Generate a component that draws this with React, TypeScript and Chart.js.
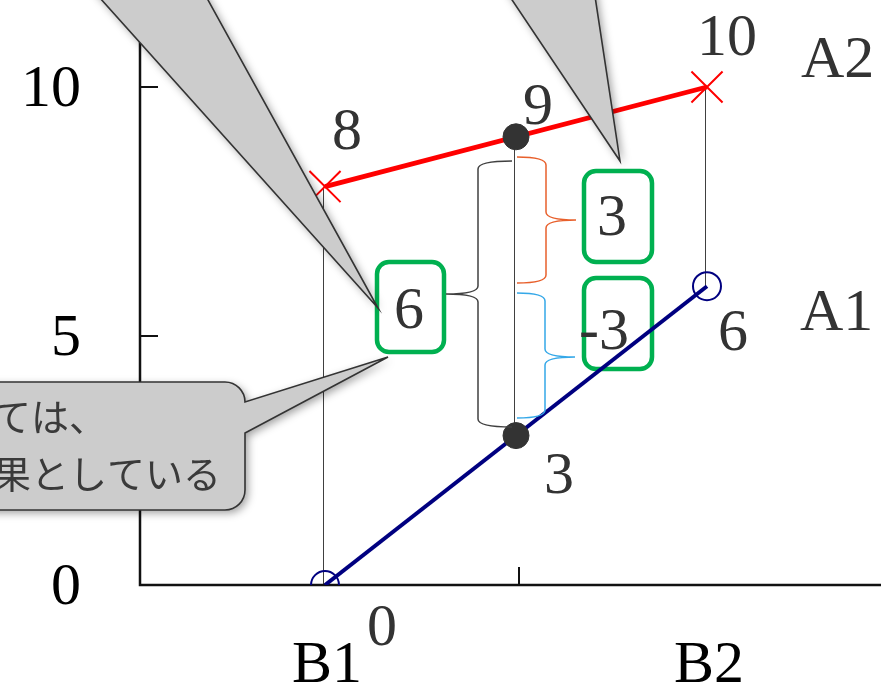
import React, { useEffect, useRef } from "react";
import { Chart, registerables } from "chart.js";
Chart.register(...registerables);

// ---- data ----
const categories = ["B1", "B2"];
const categoryX = [0, 1];
const seriesNames = ["A2", "A1"];
const seriesA2 = [8, 10];
const seriesA1 = [0, 6];
const midX = 0.5;
const midValues = [9, 3];
const yTicks = [0, 5, 10];
const xTickMarks = [0.5];
const diffLabels = ["6", "3", "-3"];
const calloutLines = ["ては、", "果としている"];

const SERIF = '"Liberation Serif", "Times New Roman", serif';
const CJK = '"Noto Sans CJK JP", "Noto Sans", sans-serif';

// label offsets (style): [dx, dy baseline]
const offA2 = [[22, -38], [20, -32]];
const offA1 = [[57, 60], [26, 64]];
const offMid = [[22, -13], [43, 57]];

function roundRect(ctx: CanvasRenderingContext2D, x: number, y: number, w: number, h: number, r: number) {
  ctx.beginPath();
  ctx.moveTo(x + r, y);
  ctx.lineTo(x + w - r, y);
  ctx.arcTo(x + w, y, x + w, y + r, r);
  ctx.lineTo(x + w, y + h - r);
  ctx.arcTo(x + w, y + h, x + w - r, y + h, r);
  ctx.lineTo(x + r, y + h);
  ctx.arcTo(x, y + h, x, y + h - r, r);
  ctx.lineTo(x, y + r);
  ctx.arcTo(x, y, x + r, y, r);
  ctx.closePath();
}

function brace(ctx: CanvasRenderingContext2D, xTip: number, xSpine: number, xPoint: number, yTop: number, yMid: number, yBot: number, color: string, lw: number) {
  const r = 8;
  ctx.save();
  ctx.strokeStyle = color;
  ctx.lineWidth = lw;
  ctx.beginPath();
  ctx.moveTo(xTip, yTop);
  ctx.quadraticCurveTo(xSpine, yTop, xSpine, yTop + r);
  ctx.lineTo(xSpine, yMid - r);
  ctx.quadraticCurveTo(xSpine, yMid, xPoint, yMid);
  ctx.quadraticCurveTo(xSpine, yMid, xSpine, yMid + r);
  ctx.lineTo(xSpine, yBot - r);
  ctx.quadraticCurveTo(xSpine, yBot, xTip, yBot);
  ctx.stroke();
  ctx.restore();
}

function callout(ctx: CanvasRenderingContext2D, build: () => void) {
  ctx.save();
  build();
  ctx.shadowColor = "rgba(0,0,0,0.38)";
  ctx.shadowBlur = 8;
  ctx.shadowOffsetX = 3;
  ctx.shadowOffsetY = 3;
  ctx.fillStyle = "#CCCCCC";
  ctx.fill();
  ctx.shadowColor = "rgba(0,0,0,0)";
  ctx.strokeStyle = "#333333";
  ctx.lineWidth = 1.6;
  ctx.lineJoin = "miter";
  ctx.stroke();
  ctx.restore();
}

const overlay = {
  id: "overlay",
  beforeDatasetsDraw(chart: any) {
    const ctx: CanvasRenderingContext2D = chart.ctx;
    const xs = chart.scales.x;
    const ys = chart.scales.y;
    const a = chart.chartArea;
    ctx.save();
    // high-low lines
    ctx.strokeStyle = "#404040";
    ctx.lineWidth = 1;
    const groups: number[][] = [
      [categoryX[0], seriesA2[0], seriesA1[0]],
      [categoryX[1], seriesA2[1], seriesA1[1]],
      [midX, midValues[0], midValues[1]],
    ];
    groups.forEach((g) => {
      const x = Math.round(xs.getPixelForValue(g[0])) - 1.5;
      ctx.beginPath();
      ctx.moveTo(x, ys.getPixelForValue(Math.max(g[1], g[2])));
      ctx.lineTo(x, ys.getPixelForValue(Math.min(g[1], g[2])));
      ctx.stroke();
    });
    // axes
    ctx.strokeStyle = "#111111";
    ctx.lineWidth = 2.5;
    ctx.beginPath();
    ctx.moveTo(a.left, a.top);
    ctx.lineTo(a.left, a.bottom);
    ctx.lineTo(a.right, a.bottom);
    ctx.stroke();
    ctx.lineWidth = 2;
    yTicks.forEach((t) => {
      if (t === 0) return;
      const y = ys.getPixelForValue(t);
      ctx.beginPath();
      ctx.moveTo(a.left, y);
      ctx.lineTo(a.left + 18, y);
      ctx.stroke();
    });
    xTickMarks.forEach((t) => {
      const x = xs.getPixelForValue(t) + 3;
      ctx.beginPath();
      ctx.moveTo(x, a.bottom);
      ctx.lineTo(x, a.bottom - 18);
      ctx.stroke();
    });
    // green boxes
    ctx.strokeStyle = "#00B050";
    ctx.lineWidth = 4.5;
    roundRect(ctx, 377, 262, 67, 90, 12);
    ctx.stroke();
    roundRect(ctx, 584, 171, 68, 91, 12);
    ctx.stroke();
    roundRect(ctx, 584, 278, 68, 91, 12);
    ctx.stroke();
    ctx.restore();
  },
  afterDatasetsDraw(chart: any) {
    const ctx: CanvasRenderingContext2D = chart.ctx;
    const xs = chart.scales.x;
    const ys = chart.scales.y;
    const a = chart.chartArea;
    ctx.save();
    ctx.font = `60px ${SERIF}`;
    ctx.textBaseline = "alphabetic";
    // y tick labels
    ctx.fillStyle = "#000000";
    ctx.textAlign = "right";
    yTicks.forEach((t) => {
      ctx.fillText(String(t), a.left - 59, ys.getPixelForValue(t) + 19);
    });
    // x category labels
    ctx.textAlign = "center";
    categories.forEach((c, i) => {
      ctx.fillText(c, xs.getPixelForValue(categoryX[i]) + 2, 682);
    });
    // data labels
    ctx.fillStyle = "#333333";
    const lab = (x: number, y: number, v: number, off: number[]) => {
      ctx.fillText(String(v), xs.getPixelForValue(x) + off[0], ys.getPixelForValue(y) + off[1]);
    };
    categoryX.forEach((x, i) => {
      lab(x, seriesA2[i], seriesA2[i], offA2[i]);
      lab(x, seriesA1[i], seriesA1[i], offA1[i]);
    });
    midValues.forEach((v, i) => lab(midX, v, v, offMid[i]));
    // series names at right
    ctx.textAlign = "left";
    const lastIdx = categoryX.length - 1;
    ctx.fillText(seriesNames[0], 801, ys.getPixelForValue(seriesA2[lastIdx]) - 10);
    ctx.fillText(seriesNames[1], 800, ys.getPixelForValue(seriesA1[lastIdx]) + 44);
    // box labels
    ctx.textAlign = "center";
    ctx.fillText(diffLabels[0], 409, 328);
    ctx.fillText(diffLabels[1], 612, 235);
    ctx.textAlign = "right";
    ctx.fillText(diffLabels[2], 629, 349);

    // braces
    brace(ctx, 512, 478, 446, 161, 294, 427, "#404040", 1.5);
    brace(ctx, 517, 546, 576, 157, 220, 283, "#E8602C", 1.5);
    brace(ctx, 517, 545, 575, 293, 357, 418, "#35A8E8", 1.5);

    // callouts
    callout(ctx, () => {
      ctx.beginPath();
      ctx.moveTo(102 - 0.905 * 30, -30);
      ctx.lineTo(378, 308);
      ctx.lineTo(208 - 0.552 * 30, -30);
      ctx.closePath();
    });
    callout(ctx, () => {
      ctx.beginPath();
      ctx.moveTo(513 - 0.7 * 30, -30);
      ctx.lineTo(620, 161);
      ctx.lineTo(595 - 0.133 * 30, -30);
      ctx.closePath();
    });
    callout(ctx, () => {
      ctx.beginPath();
      ctx.moveTo(-40, 382);
      ctx.lineTo(225, 382);
      ctx.arcTo(245, 382, 245, 402, 20);
      ctx.lineTo(388, 357);
      ctx.lineTo(245, 433);
      ctx.lineTo(245, 490);
      ctx.arcTo(245, 510, 225, 510, 20);
      ctx.lineTo(-40, 510);
      ctx.closePath();
    });
    ctx.fillStyle = "#3A3A3A";
    ctx.font = `38px ${CJK}`;
    ctx.textAlign = "left";
    ctx.textBaseline = "middle";
    ctx.fillText(calloutLines[0], -7, 417);
    ctx.fillText(calloutLines[1], -7, 474);
    ctx.restore();
  },
};

export default function App() {
  const ref = useRef<HTMLCanvasElement | null>(null);
  useEffect(() => {
    if (!ref.current) return;
    const chart = new Chart(ref.current, {
      type: "scatter",
      data: {
        datasets: [
          {
            label: "mid",
            data: midValues.map((v) => ({ x: midX, y: v })),
            showLine: false,
            pointRadius: 13,
            pointHoverRadius: 13,
            pointBackgroundColor: "#333333",
            pointBorderColor: "#333333",
            pointBorderWidth: 1,
          },
          {
            label: seriesNames[0],
            data: categoryX.map((x, i) => ({ x, y: seriesA2[i] })),
            showLine: true,
            borderColor: "#FF0000",
            borderWidth: 4.8,
            pointStyle: "crossRot",
            pointRadius: 22,
            pointHoverRadius: 22,
            pointBorderColor: "#FF0000",
            pointBackgroundColor: "#FF0000",
            pointBorderWidth: 2,
          },
          {
            label: seriesNames[1],
            data: categoryX.map((x, i) => ({ x, y: seriesA1[i] })),
            showLine: true,
            borderColor: "#000080",
            borderWidth: 4,
            pointStyle: "circle",
            pointRadius: 14,
            pointHoverRadius: 14,
            pointBorderColor: "#000080",
            pointBackgroundColor: "rgba(0,0,0,0)",
            pointBorderWidth: 2,
          },
        ],
      },
      options: {
        responsive: false,
        animation: false,
        devicePixelRatio: 1,
        layout: { autoPadding: false, padding: { left: 140, right: 0, top: 0, bottom: 99 } },
        scales: {
          x: { type: "linear", display: false, min: -0.4843, max: 1.4555 },
          y: { type: "linear", display: false, min: 0, max: 11.747 },
        },
        plugins: { legend: { display: false }, tooltip: { enabled: false } },
        elements: { line: { tension: 0 } },
        events: [],
      },
      plugins: [overlay],
    } as any);
    return () => chart.destroy();
  }, []);
  return (
    <div style={{ position: "fixed", left: 0, top: 0, width: 881, height: 684, overflow: "hidden", background: "#ffffff" }}>
      <canvas ref={ref} width={881} height={684} style={{ display: "block", width: 881, height: 684 }} />
    </div>
  );
}
